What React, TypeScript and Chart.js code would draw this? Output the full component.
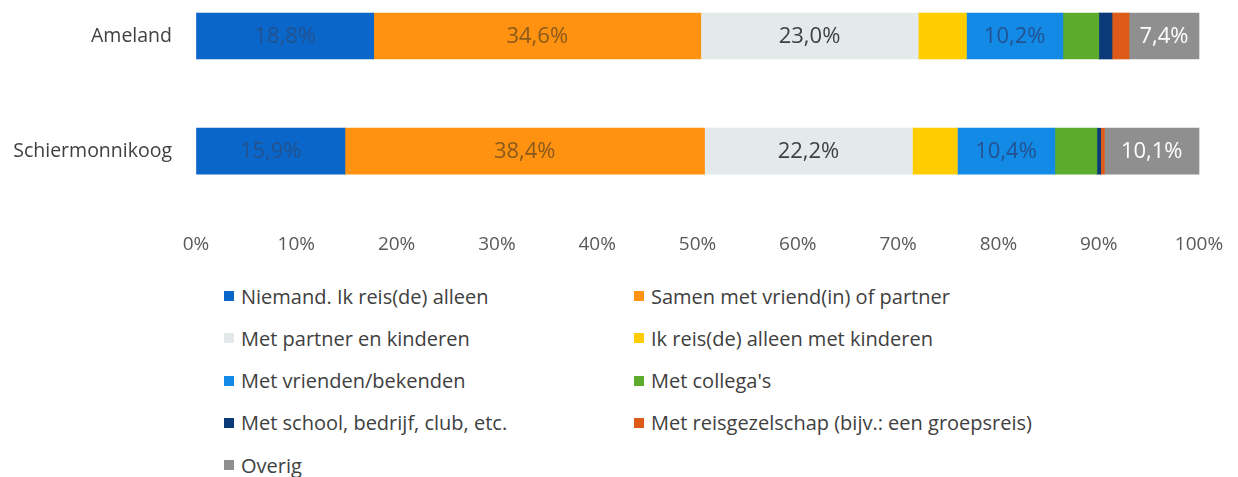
import React, { useEffect, useRef } from "react";
import { Chart, registerables } from "chart.js";

Chart.register(...registerables);

const categories = ["Ameland", "Schiermonnikoog"];
const seriesNames = [
  "Niemand. Ik reis(de) alleen",
  "Samen met vriend(in) of partner",
  "Met partner en kinderen",
  "Ik reis(de) alleen met kinderen",
  "Met vrienden/bekenden",
  "Met collega's",
  "Met school, bedrijf, club, etc.",
  "Met reisgezelschap (bijv.: een groepsreis)",
  "Overig",
];
const amelandValues = [18.8, 34.6, 23.0, 5.1, 10.2, 3.8, 1.4, 1.8, 7.4];
const schierValues = [15.9, 38.4, 22.2, 4.8, 10.4, 4.5, 0.4, 0.4, 10.1];
const seriesColors = [
  "#0a66c8",
  "#ff9210",
  "#e4eaec",
  "#ffcc00",
  "#128ae6",
  "#5cab2c",
  "#0b3a78",
  "#dd5a18",
  "#8f8f8f",
];
const labelColors = [
  "#23528f",
  "#8a5a1c",
  "#404040",
  "#404040",
  "#23528f",
  "#404040",
  "#404040",
  "#404040",
  "#ffffff",
];
const xTicks = [0, 10, 20, 30, 40, 50, 60, 70, 80, 90, 100];

const FONT = "'Open Sans', 'DejaVu Sans', sans-serif";

const rows = [amelandValues, schierValues];
const totals = rows.map((r) => r.reduce((a, b) => a + b, 0));

const fmt = (v: number) => v.toFixed(1).replace(".", ",") + "%";

const labelPlugin = {
  id: "segLabels",
  afterDatasetsDraw(chart: any) {
    const ctx = chart.ctx;
    ctx.save();
    ctx.font = `22px ${FONT}`;
    ctx.textAlign = "center";
    ctx.textBaseline = "middle";
    chart.data.datasets.forEach((ds: any, di: number) => {
      const meta = chart.getDatasetMeta(di);
      meta.data.forEach((el: any, ci: number) => {
        const raw = rows[ci][di];
        if (raw < 6) return;
        const cx = (el.x + el.base) / 2;
        ctx.fillStyle = labelColors[di];
        ctx.fillText(fmt(raw), cx, el.y + 1);
      });
    });
    ctx.restore();
  },
};

export default function App() {
  const ref = useRef<HTMLCanvasElement>(null);
  useEffect(() => {
    if (!ref.current) return;
    const chart = new Chart(ref.current, {
      type: "bar",
      data: {
        labels: categories,
        datasets: seriesNames.map((name, i) => ({
          label: name,
          data: rows.map((r, ci) => (r[i] / totals[ci]) * 100),
          backgroundColor: seriesColors[i],
          borderWidth: 0,
          barThickness: 46,
          clip: false as any,
        })),
      },
      options: {
        animation: false,
        responsive: false,
        indexAxis: "y",
        layout: { padding: { top: 36, right: 39, bottom: 2, left: 0 } },
        plugins: {
          legend: { display: false },
          tooltip: { enabled: false },
        },
        scales: {
          x: {
            stacked: true,
            min: 0,
            max: 100,
            afterBuildTicks(scale: any) {
              scale.ticks = xTicks.map((v) => ({ value: v }));
            },
            grid: {
              display: true,
              drawOnChartArea: false,
              drawTicks: true,
              tickLength: 78,
              color: "rgba(0,0,0,0)",
            },
            border: { display: false },
            ticks: {
              padding: 4,
              color: "#595959",
              font: { family: FONT, size: 19 },
              callback: (v: any) => v + "%",
              maxRotation: 0,
              autoSkip: false,
            },
          },
          y: {
            stacked: true,
            offset: false,
            grid: { display: false, drawTicks: false },
            border: { display: false },
            afterFit(scale: any) {
              scale.width = 196;
            },
            ticks: {
              padding: 24,
              color: "#404040",
              font: { family: FONT, size: 19.5 },
            },
          },
        },
      },
      plugins: [labelPlugin],
    });
    return () => chart.destroy();
  }, []);

  const legendTop = 296;
  const rowGap = 42.3;
  return (
    <div
      style={{
        position: "absolute",
        left: 0,
        top: 0,
        width: 1238,
        height: 477,
        background: "#ffffff",
        overflow: "hidden",
      }}
    >
      <canvas ref={ref} width={1238} height={262} style={{ display: "block" }} />
      {seriesNames.map((name, i) => {
        const col = i % 2;
        const row = Math.floor(i / 2);
        const left = col === 0 ? 224 : 634;
        return (
          <div
            key={name}
            style={{
              position: "absolute",
              left,
              top: legendTop + row * rowGap - 14,
              height: 28,
              display: "flex",
              alignItems: "center",
              whiteSpace: "nowrap",
              fontFamily: FONT,
              fontSize: 20,
              color: "#404040",
            }}
          >
            <span
              style={{
                display: "inline-block",
                width: 10,
                height: 10,
                background: seriesColors[i],
                marginRight: 7,
              }}
            />
            <span>{name}</span>
          </div>
        );
      })}
    </div>
  );
}
